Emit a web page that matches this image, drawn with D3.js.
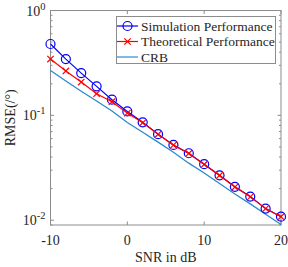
<!DOCTYPE html>
<html>
<head>
<meta charset="utf-8">
<script src="https://cdn.jsdelivr.net/npm/d3@7"></script>
<style>
  body { margin: 0; background: #fff; }
  text { font-family: "Liberation Serif", "Times New Roman", serif; fill: #262626; }
</style>
</head>
<body>
<div id="chart"></div>
<script>
// data
var snr = [-10, -8, -6, -4, -2, 0, 2, 4, 6, 8, 10, 12, 14, 16, 18, 20]
var simulation = [0.479, 0.344, 0.253, 0.189, 0.141, 0.109, 0.0858, 0.0662, 0.0522, 0.0435, 0.0342, 0.0268, 0.0208, 0.0168, 0.0129, 0.0108]
var theoretical = [0.344, 0.265, 0.208, 0.161, 0.135, 0.105, 0.0850, 0.0660, 0.0520, 0.0433, 0.0340, 0.0267, 0.0207, 0.0167, 0.0129, 0.0108]
var crb = [0.268, 0.213, 0.170, 0.137, 0.110, 0.0855, 0.0690, 0.0555, 0.0445, 0.0350, 0.0282, 0.0224, 0.0178, 0.0143, 0.0114, 0.0091]
var xTicks = [-10, 0, 10, 20]
var yTicks = [1, 0.1, 0.01]
var legendNames = ["Simulation Performance", "Theoretical Performance", "CRB"]

var W = 288, H = 267
var margin = {top: 10.5, right: 7, bottom: 42, left: 50.5}
var width = W - margin.left - margin.right,
    height = H - margin.top - margin.bottom

var svg = d3.select("#chart").append("svg")
    .attr("width", W).attr("height", H)
var g = svg.append("g")
    .attr("transform", "translate(" + margin.left + "," + margin.top + ")")

var x = d3.scaleLinear().domain([-10, 20]).range([0, width])
var y = d3.scaleLog().domain([0.009, 1]).range([height, 0])

var axisCol = "#8c8c8c"
var blue = "#0000ff", red = "#ff0000", crbCol = "#2a8ad0"

// minor ticks for log axis
var minor = []
for (var e = -3; e < 0; e++) {
    for (var m = 2; m <= 9; m++) {
        var v = m * Math.pow(10, e)
        if (v >= 0.009 && v <= 1) minor.push(v)
    }
}

// box + ticks
g.append("rect").attr("width", width).attr("height", height)
    .attr("fill", "none").attr("stroke", axisCol).attr("stroke-width", 1)

minor.forEach(function(v){
    g.append("line").attr("x1", 0).attr("x2", 2).attr("y1", y(v)).attr("y2", y(v)).attr("stroke", axisCol)
    g.append("line").attr("x1", width).attr("x2", width - 2).attr("y1", y(v)).attr("y2", y(v)).attr("stroke", axisCol)
})
yTicks.forEach(function(v){
    g.append("line").attr("x1", 0).attr("x2", 3.5).attr("y1", y(v)).attr("y2", y(v)).attr("stroke", axisCol)
    g.append("line").attr("x1", width).attr("x2", width - 3.5).attr("y1", y(v)).attr("y2", y(v)).attr("stroke", axisCol)
    var t = g.append("text").attr("x", -5).attr("y", y(v) + 5)
        .attr("text-anchor", "end").style("font-size", "14px")
    t.append("tspan").text("10")
    t.append("tspan").attr("dy", -6).style("font-size", "10.5px").text(Math.round(Math.log10(v)))
})
xTicks.forEach(function(v){
    g.append("line").attr("x1", x(v)).attr("x2", x(v)).attr("y1", height).attr("y2", height - 3.5).attr("stroke", axisCol)
    g.append("line").attr("x1", x(v)).attr("x2", x(v)).attr("y1", 0).attr("y2", 3.5).attr("stroke", axisCol)
    g.append("text").attr("x", x(v)).attr("y", height + 20)
        .attr("text-anchor", "middle").style("font-size", "14px").text(v)
})

// axis labels
g.append("text").attr("x", width / 2).attr("y", height + 37)
    .attr("text-anchor", "middle").style("font-size", "14px").text("SNR in dB")
svg.append("text")
    .attr("transform", "translate(15," + (margin.top + height / 2) + ") rotate(-90)")
    .attr("text-anchor", "middle").style("font-size", "14px").text("RMSE(/°)")

var line = d3.line()
    .x(function(d){ return x(d[0]) })
    .y(function(d){ return y(d[1]) })

function pairs(vals){ return snr.map(function(s, i){ return [s, vals[i]] }) }

g.append("path").datum(pairs(crb)).attr("d", line)
    .attr("fill", "none").attr("stroke", crbCol).attr("stroke-width", 1.3)
g.append("path").datum(pairs(simulation)).attr("d", line)
    .attr("fill", "none").attr("stroke", blue).attr("stroke-width", 1.2)
g.selectAll(".circ").data(pairs(simulation)).enter().append("circle")
    .attr("cx", function(d){ return x(d[0]) }).attr("cy", function(d){ return y(d[1]) })
    .attr("r", 4.5).attr("fill", "none").attr("stroke", blue).attr("stroke-width", 1.2)
g.append("path").datum(pairs(theoretical)).attr("d", line)
    .attr("fill", "none").attr("stroke", red).attr("stroke-width", 1.2)

function cross(sel, cx, cy){
    var s = 3.2
    sel.append("path")
        .attr("d", "M" + (cx - s) + "," + (cy - s) + "L" + (cx + s) + "," + (cy + s) +
                   "M" + (cx - s) + "," + (cy + s) + "L" + (cx + s) + "," + (cy - s))
        .attr("stroke", red).attr("stroke-width", 1.2).attr("fill", "none")
}
pairs(theoretical).forEach(function(d){ cross(g, x(d[0]), y(d[1])) })

// legend
var lg = svg.append("g")
lg.append("rect").attr("x", 116.5).attr("y", 16.5).attr("width", 159).attr("height", 47)
    .attr("fill", "#fff").attr("stroke", axisCol).attr("stroke-width", 1)
var rowY = [26, 41.5, 57]
var cols = [blue, red, crbCol]
legendNames.forEach(function(name, i){
    lg.append("line").attr("x1", 117).attr("x2", 138).attr("y1", rowY[i]).attr("y2", rowY[i])
        .attr("stroke", cols[i]).attr("stroke-width", 1.2)
    if (i == 0) lg.append("circle").attr("cx", 127.5).attr("cy", rowY[i]).attr("r", 4.5)
        .attr("fill", "none").attr("stroke", blue).attr("stroke-width", 1.2)
    if (i == 1) cross(lg, 127.5, rowY[i])
    lg.append("text").attr("x", 141).attr("y", rowY[i] + 4.5)
        .style("font-size", "13.5px").text(name)
})
</script>
</body>
</html>
